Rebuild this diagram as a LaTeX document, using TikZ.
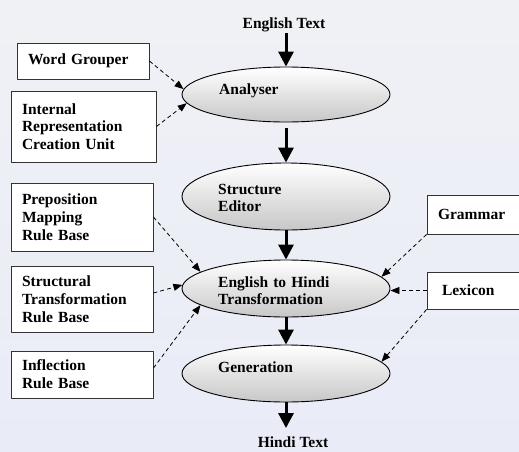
\documentclass[tikz,border=0pt]{standalone}
\usepackage{fontspec}
\setmainfont{Liberation Serif}
\usetikzlibrary{shapes.geometric,arrows.meta}

\begin{document}
\begin{tikzpicture}[x=1pt, y=-1pt, line join=round,
    font=\fontsize{15.5}{17.8}\selectfont\bfseries,
    ellip/.style={ellipse, draw, line width=0.9pt, inner sep=0pt, minimum width=208pt,
        top color=white, bottom color=black!22},
    intext/.style={anchor=base west, inner sep=0pt, text width=170pt, align=left},
    rulebox/.style={draw=black!80, line width=0.9pt, fill=white, inner xsep=11pt,
        inner ysep=0pt, text width=#1, align=left},
    mainarrow/.style={line width=3pt, -{Triangle[width=15pt,length=15pt]}},
    dasharrow/.style={line width=0.8pt, dash pattern=on 4pt off 3pt,
        -{Triangle[width=7pt,length=9pt]}}]
    % 画面范围 (右侧方框超出画面)
    \useasboundingbox (0,0) rectangle (519,451);
    \clip (0,0) rectangle (519,451);

    % 背景
    \fill[top color={rgb,255:red,240;green,241;blue,245},
          bottom color={rgb,255:red,233;green,236;blue,247}] (0,0) rectangle (519,451);

    % 中间的处理流程 (椭圆)
    \node[ellip, minimum height=55pt] (analyser) at (286,94.5) {};
    \node[ellip, minimum height=67pt] (editor) at (286,196.5) {};
    \node[ellip, minimum height=57pt] (transform) at (286,288.5) {};
    \node[ellip, minimum height=57pt] (generation) at (286,373.5) {};

    % 椭圆内文字, 靠左上
    \node[intext] (analysertext) at (219,94) {Analyser};
    \node[intext] (editortext) at (218,194) {Structure\\Editor};
    \node[intext] (transformtext) at (218,287) {English to Hindi\\Transformation};
    \node[intext] (generationtext) at (218,372) {Generation};

    % 输入与输出
    \node[anchor=base, inner sep=0pt] (entext) at (284,28) {English Text};
    \node[anchor=base, inner sep=0pt] (hitext) at (293,447) {Hindi Text};

    % 左侧的规则库
    \node[rulebox=110pt, minimum height=36pt] (grouper) at (83,61) {Word Grouper};
    \node[rulebox=123pt, minimum height=71pt] (internal) at (83.5,126.5)
        {Internal\\Representation\\Creation Unit};
    \node[rulebox=120pt, minimum height=68pt] (preposition) at (82,217)
        {Preposition\\Mapping\\Rule Base};
    \node[rulebox=120pt, minimum height=66pt] (structural) at (82,299)
        {Structural\\Transformation\\Rule Base};
    \node[rulebox=120pt, minimum height=47pt] (inflection) at (82,374.5)
        {Inflection\\Rule Base};

    % 右侧的方框
    \node[rulebox=88pt, minimum height=39pt] (grammar) at (482,214.5) {Grammar};
    \node[rulebox=84pt, inner xsep=15pt, minimum height=37pt] (lexicon) at (484,290.5) {Lexicon};

    % 主流程箭头
    \draw[mainarrow, shorten <=1.5pt] (entext.south -| analyser.north) -- (analyser.north);
    \draw[mainarrow, shorten <=6pt] (analyser.south) -- (editor.north);
    \draw[mainarrow] (editor.south) -- (transform.north);
    \draw[mainarrow] (transform.south) -- (generation.north);
    \draw[mainarrow, shorten >=8pt] (generation.south) -- (hitext.north -| generation.south);

    % 虚线箭头
    \draw[dasharrow] (grouper.east) -- (analyser.177);
    \draw[dasharrow] (internal.east) -- (analyser.185);
    \draw[dasharrow] (preposition.east) -- (transform.169);
    \draw[dasharrow] ([yshift=6pt]structural.east) -- (transform.178);
    \draw[dasharrow] ([yshift=6.5pt]inflection.east) -- (transform.191);
    \draw[dasharrow] (grammar.south west) -- (transform.7);
    \draw[dasharrow] (lexicon.west) -- (lexicon.west -| transform.east);
    \draw[dasharrow] (lexicon.south west) -- (generation.7);
\end{tikzpicture}
\end{document}
